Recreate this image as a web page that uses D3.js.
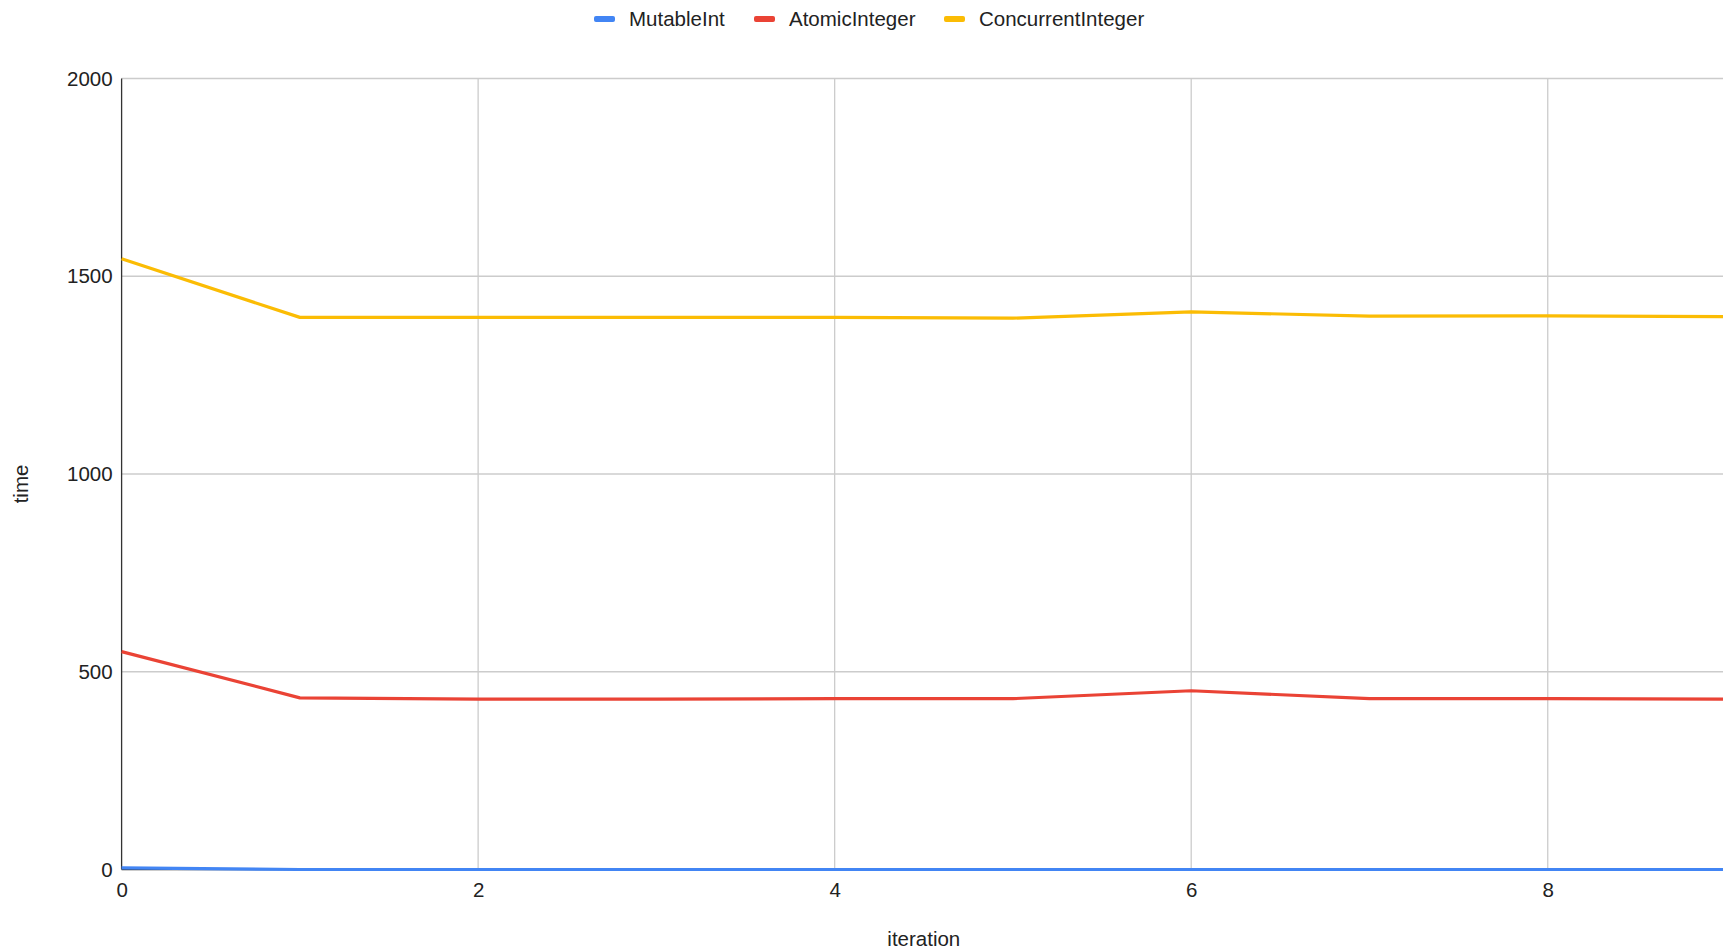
<!DOCTYPE html>
<html>
<head>
<meta charset="utf-8">
<script src="https://cdn.jsdelivr.net/npm/d3@7"></script>
<style>
  html, body { margin: 0; padding: 0; background: #fff; overflow: hidden; }
  svg { display: block; font-family: "Liberation Sans", Arial, sans-serif; }
</style>
</head>
<body>
<svg id="chart" width="1723" height="946"></svg>
<script>
const iterations = [0, 1, 2, 3, 4, 5, 6, 7, 8, 9];
const mutableInt = [4, 0, 0, 0, 0, 0, 0, 0, 0, 0];
const atomicInteger = [551, 434, 431, 431, 432, 432, 452, 432, 432, 431];
const concurrentInteger = [1544, 1396, 1396, 1396, 1396, 1394, 1410, 1399, 1400, 1398];
const seriesNames = ["MutableInt", "AtomicInteger", "ConcurrentInteger"];
const seriesColors = ["#4285F4", "#EA4335", "#FBBC04"];
const xTicks = [0, 2, 4, 6, 8];
const yTicks = [0, 500, 1000, 1500, 2000];

(function () {
const svg = d3.select("#chart");
const pL = 121.6, pR = 1726, pT = 78.5, pB = 869.5;
const x = d3.scaleLinear().domain([0, 9]).range([pL, pR]);
const y = d3.scaleLinear().domain([0, 2000]).range([pB, pT]);

// grid
svg.append("g").selectAll("line").data(yTicks.filter(d => d > 0)).join("line")
  .attr("x1", pL).attr("x2", 1723).attr("y1", d => y(d)).attr("y2", d => y(d))
  .attr("stroke", "#cccccc").attr("stroke-width", 1.3);
svg.append("g").selectAll("line").data(xTicks.filter(d => d > 0)).join("line")
  .attr("x1", d => x(d)).attr("x2", d => x(d)).attr("y1", pT).attr("y2", pB)
  .attr("stroke", "#cccccc").attr("stroke-width", 1.3);

// axes
const yAxis = svg.append("g").attr("transform", `translate(${pL},0)`)
  .call(d3.axisLeft(y).tickValues(yTicks).tickFormat(d3.format("d")).tickSize(0).tickPadding(9));
yAxis.select(".domain").remove();
yAxis.selectAll("text").attr("font-size", 20.5).attr("fill", "#222")
  .attr("font-family", "Liberation Sans, Arial, sans-serif");

const xAxis = svg.append("g").attr("transform", `translate(0,${pB})`)
  .call(d3.axisBottom(x).tickValues(xTicks).tickFormat(d3.format("d")).tickSize(0).tickPadding(13));
xAxis.select(".domain").remove();
xAxis.selectAll("text").attr("font-size", 20.5).attr("fill", "#222")
  .attr("font-family", "Liberation Sans, Arial, sans-serif");

svg.append("line").attr("x1", pL).attr("x2", 1723).attr("y1", y(0)).attr("y2", y(0))
  .attr("stroke", "#333").attr("stroke-width", 1.3);
svg.append("line").attr("x1", pL).attr("x2", pL).attr("y1", pT).attr("y2", pB)
  .attr("stroke", "#333").attr("stroke-width", 1.3);

// lines
const allSeries = [mutableInt, atomicInteger, concurrentInteger];
const line = d3.line().x((d, i) => x(iterations[i])).y(d => y(d));
allSeries.forEach((vals, k) => {
  svg.append("path").datum(vals).attr("d", line)
    .attr("fill", "none").attr("stroke", seriesColors[k]).attr("stroke-width", 3.2)
    .attr("stroke-linejoin", "round");
});

// axis titles
svg.append("text").attr("x", (pL + pR) / 2).attr("y", 946).attr("text-anchor", "middle")
  .attr("font-size", 20.5).attr("fill", "#222").text("iteration");
svg.append("text").attr("transform", `translate(28,484) rotate(-90)`).attr("text-anchor", "middle")
  .attr("font-size", 20.5).attr("fill", "#222").text("time");

// legend
const legendX = [594, 754, 944];
const lg = svg.append("g");
seriesNames.forEach((name, k) => {
  lg.append("rect").attr("x", legendX[k]).attr("y", 16).attr("width", 21).attr("height", 6)
    .attr("rx", 2).attr("fill", seriesColors[k]);
  lg.append("text").attr("x", legendX[k] + 35).attr("y", 26).attr("font-size", 20.5)
    .attr("fill", "#222").text(name);
});
})();
</script>
</body>
</html>
